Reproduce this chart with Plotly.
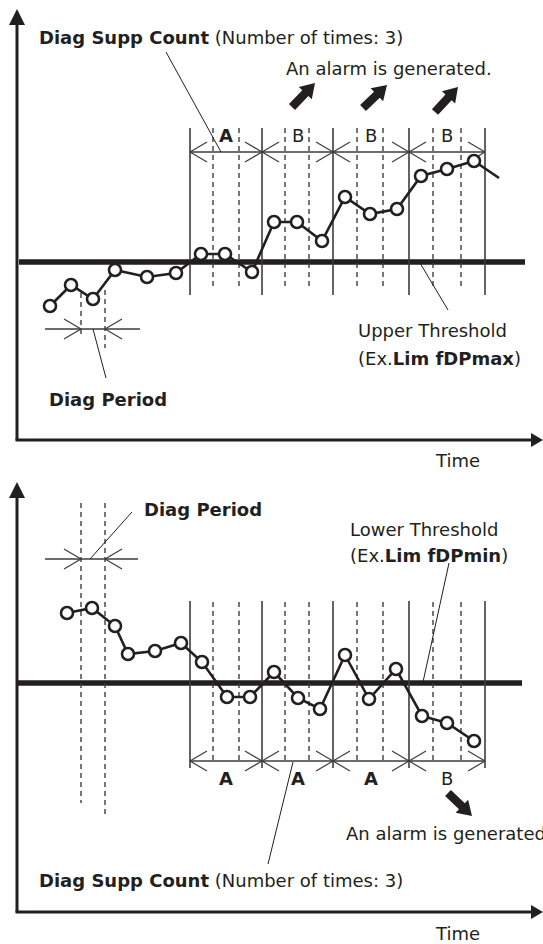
import numpy as np
import plotly.graph_objects as go

# ---- data -------------------------------------------------------------
# Monitored value relative to the threshold (threshold = 0), sampled over time
top_time = [50, 71, 93, 115, 147, 176, 201, 225, 252, 274, 297, 322, 345, 370, 397, 421, 447, 474]
top_value = [-44, -23, -37, -8, -15, -11, 8, 8, -10, 40, 40, 21, 65, 48, 53, 86, 93, 101]
top_trail_time = [474, 499]
top_trail_value = [101, 84]

bottom_time = [67, 92, 115, 128, 155, 181, 202, 227, 250, 274, 298, 320, 345, 369, 396, 422, 447, 474]
bottom_value = [70, 75, 57, 29, 32, 40, 21, -14, -14, 11, -15, -26, 28, -16, 14, -33, -40, -58]

# Diagnosis windows (each holds three diag periods) and their verdicts
window_edges = [190, 262, 333, 409, 485]
period_marks = [213, 239, 285, 309, 357, 383, 433, 461]
example_period = [81, 105]
top_verdicts = ["A", "B", "B", "B"]
bottom_verdicts = ["A", "A", "A", "B"]

# ---- styling ----------------------------------------------------------
INK = "#231f20"
GREY = "#3d3d3d"
FONT = "DejaVu Sans"
FS = 18

fig = go.Figure()
shapes = []
annotations = []


def seg(x0, y0, x1, y1, yref, width=1.0, color=INK, dash=None):
    line = dict(color=color, width=width)
    if dash:
        line["dash"] = dash
    shapes.append(dict(type="line", xref=yref.replace("y", "x"), yref=yref,
                       x0=x0, y0=y0, x1=x1, y1=y1, line=line, layer="below"))


def poly(points, yref, color=INK):
    path = "M " + " L ".join(f"{x:.2f},{y:.2f}" for x, y in points) + " Z"
    shapes.append(dict(type="path", xref=yref.replace("y", "x"), yref=yref,
                       path=path, fillcolor=color, line=dict(width=0), layer="above"))


def text(x, y, s, yref, anchor="left", size=FS):
    annotations.append(dict(x=x, y=y, xref=yref.replace("y", "x"), yref=yref, text=s,
                            showarrow=False, xanchor=anchor, yanchor="middle",
                            font=dict(family=FONT, size=size, color=INK)))


def block_arrow(tail, tip, yref, head_len=14, head_half=9, shaft_half=4.2):
    tail = np.array(tail, float)
    tip = np.array(tip, float)
    u = (tip - tail) / np.linalg.norm(tip - tail)
    n = np.array([-u[1], u[0]])
    neck = tip - u * head_len
    pts = [tail + n * shaft_half, neck + n * shaft_half, neck + n * head_half, tip,
           neck - n * head_half, neck - n * shaft_half, tail - n * shaft_half]
    poly(pts, yref)


def open_head(x, y, direction, yref, length=17, half=10, color=GREY, width=1.2):
    # chevron whose tip sits at (x, y); direction -1 points left, +1 points right
    seg(x, y, x - direction * length, y + half, yref, width, color)
    seg(x, y, x - direction * length, y - half, yref, width, color)


def axes_frame(yref, y_top, y_base, x_end=543):
    x0 = 17
    seg(x0, y_top - 15, x0, y_base, yref, 3, INK)
    seg(x0 - 1.5, y_base, x_end - 11, y_base, yref, 3, INK)
    poly([(x0, y_top), (x0 - 8, y_top - 16), (x0 + 8, y_top - 16)], yref)
    poly([(x_end, y_base), (x_end - 12, y_base + 7), (x_end - 12, y_base - 7)], yref)


def windows(yref, top, bottom, dash_top, dash_bottom, dim_y, verdicts, label_y):
    for e in window_edges:
        seg(e, top, e, bottom, yref, 1.6, GREY)
    for p in period_marks:
        seg(p, dash_top, p, dash_bottom, yref, 1.4, GREY, "5px,4px")
    seg(window_edges[0], dim_y, window_edges[-1], dim_y, yref, 1.3, GREY)
    for a, b, v in zip(window_edges[:-1], window_edges[1:], verdicts):
        open_head(a, dim_y, -1, yref)
        open_head(b, dim_y, 1, yref)
        label = f"<b>{v}</b>" if v == "A" else v
        text((a + b) / 2, label_y, label, yref, anchor="center")


# ================= upper panel =================
axes_frame("y", 253, -178)
seg(19, 0, 525, 0, "y", 5.5, INK)  # upper threshold
windows("y", 134, -33, 134, -27, 110, top_verdicts, 127)

# diag period example
seg(example_period[0], -31, example_period[0], -76, "y", 1.4, GREY, "5px,4px")
seg(example_period[1], -28, example_period[1], -86, "y", 1.4, GREY, "5px,4px")
seg(45, -67, 140, -67, "y", 1.3, GREY)
open_head(example_period[0], -67, 1, "y")
open_head(example_period[1], -67, -1, "y")
seg(93, -67, 106, -116, "y", 1.0)
text(47, -137, "<b>Diag Period</b>", "y")

# callouts
text(37, 225, "<b>Diag Supp Count</b> (Number of times: 3)", "y")
seg(166, 210, 221, 110, "y", 1.0)
text(284, 194, "An alarm is generated.", "y")
for tail, tip in [((292, 155), (315, 179)), ((363, 154), (387, 177)), ((435, 150), (458, 175))]:
    block_arrow(tail, tip, "y")
seg(420, -1, 448, -48, "y", 1.0)
text(356, -68, "Upper Threshold", "y")
text(356, -96, "(Ex.<b>Lim fDPmax</b>)", "y")
text(457, -198, "Time", "y", anchor="center")

fig.add_trace(go.Scatter(x=top_trail_time, y=top_trail_value, mode="lines",
                         line=dict(color=INK, width=2.6), xaxis="x", yaxis="y",
                         hoverinfo="skip"))
fig.add_trace(go.Scatter(x=top_time, y=top_value, mode="lines+markers",
                         line=dict(color=INK, width=2.6),
                         marker=dict(symbol="circle", size=12, color="white",
                                     line=dict(color=INK, width=2.6)),
                         xaxis="x", yaxis="y"))

# ================= lower panel =================
axes_frame("y2", 201, -229)
seg(17, 0, 522, 0, "y2", 5.5, INK)  # lower threshold
windows("y2", 82, -85, 81, -78, -78, bottom_verdicts, -95)

# diag period example
seg(example_period[0], 180, example_period[0], -120, "y2", 1.4, GREY, "5px,4px")
seg(example_period[1], 180, example_period[1], -135, "y2", 1.4, GREY, "5px,4px")
seg(45, 124, 138, 124, "y2", 1.3, GREY)
open_head(example_period[0], 124, 1, "y2")
open_head(example_period[1], 124, -1, "y2")
seg(90, 124, 132, 171, "y2", 1.0)
text(142, 174, "<b>Diag Period</b>", "y2")

# callouts
text(348, 154, "Lower Threshold", "y2")
text(348, 128, "(Ex.<b>Lim fDPmin</b>)", "y2")
seg(449, 120, 423, 1, "y2", 1.0)
block_arrow((448, -110), (472, -133), "y2")
text(344, -150, "An alarm is generated.", "y2")
seg(293, -79, 268, -181, "y2", 1.0)
text(37, -197, "<b>Diag Supp Count</b> (Number of times: 3)", "y2")
text(457, -250, "Time", "y2", anchor="center")

fig.add_trace(go.Scatter(x=bottom_time, y=bottom_value, mode="lines+markers",
                         line=dict(color=INK, width=2.6),
                         marker=dict(symbol="circle", size=12, color="white",
                                     line=dict(color=INK, width=2.6)),
                         xaxis="x2", yaxis="y2"))

hidden = dict(visible=False, showgrid=False, zeroline=False, fixedrange=True)
fig.update_layout(
    width=543, height=944,
    margin=dict(l=0, r=0, t=0, b=0, pad=0),
    paper_bgcolor="white", plot_bgcolor="white",
    showlegend=False,
    xaxis=dict(domain=[0, 1], range=[0, 543], anchor="y", **hidden),
    yaxis=dict(domain=[0.5, 1], range=[-210, 262], anchor="x", **hidden),
    xaxis2=dict(domain=[0, 1], range=[0, 543], anchor="y2", **hidden),
    yaxis2=dict(domain=[0, 0.5], range=[-261, 211], anchor="x2", **hidden),
    shapes=shapes,
    annotations=annotations,
)

fig.write_html("out.html")
